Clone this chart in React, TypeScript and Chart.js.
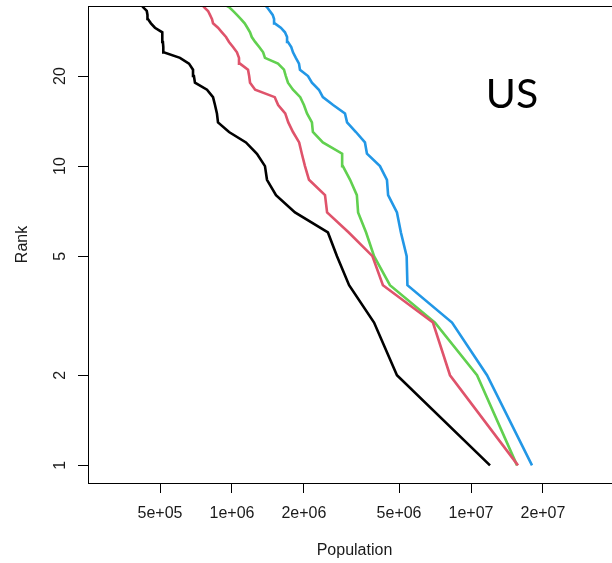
import React, { useEffect, useRef } from "react";
import { Chart, registerables } from "chart.js";

Chart.register(...registerables);

// Rank (y) of each city, 1 = largest
const ranks = [
  1, 2, 3, 4, 5, 6, 7, 8, 9, 10, 11, 12, 13, 14, 15, 16, 17, 18,
  19, 20, 21, 22, 23, 24, 25, 26, 27, 28, 29, 30, 31, 32, 33, 34, 35, 36,
];

// Population by rank, four periods (black, red, green, blue)
const popBlack = [
  12010000, 4900000, 3930000, 3090000, 2750000, 2520000, 1835000, 1528000,
  1401000, 1374000, 1272000, 1144000, 972000, 874000, 865000, 849000, 833000,
  786000, 700000, 693000, 687000, 661000, 606000, 518000, 516000, 514000,
  512000, 510000, 476000, 458000, 445000, 443000, 440000, 424000, 416000, 410000,
];
const popRed = [
  15730000, 8170000, 6930000, 4280000, 3870000, 3080000, 2500000, 2450000,
  2100000, 2020000, 1960000, 1910000, 1800000, 1720000, 1670000, 1560000,
  1510000, 1250000, 1190000, 1180000, 1167000, 1080000, 1070000, 1049000,
  1010000, 972000, 944000, 908000, 874000, 833000, 825000, 809000, 794000,
  764000, 742000, 730000,
];
const popGreen = [
  15580000, 10600000, 7070000, 4580000, 3930000, 3640000, 3370000, 3330000,
  3120000, 2910000, 2890000, 2400000, 2180000, 2160000, 2060000, 2000000,
  1930000, 1800000, 1715000, 1680000, 1650000, 1558000, 1374000, 1350000,
  1300000, 1250000, 1210000, 1190000, 1160000, 1130000, 1090000, 1049000,
  1010000, 972000, 908000, 880000,
];
const popBlue = [
  18000000, 11670000, 8330000, 5420000, 5380000, 5090000, 4900000, 4500000,
  4450000, 4160000, 3670000, 3600000, 3300000, 3030000, 2970000, 2650000,
  2400000, 2310000, 2160000, 2080000, 1925000, 1907000, 1850000, 1800000,
  1770000, 1715000, 1700000, 1666000, 1600000, 1510000, 1500000, 1480000,
  1440000, 1400000, 1340000, 1320000,
];

const seriesNames = ["Series 1", "Series 2", "Series 3", "Series 4"];
const seriesColors = ["#000000", "#DF536B", "#61D04F", "#2297E6"];

const xTickValues = [5e5, 1e6, 2e6, 5e6, 1e7, 2e7];
const xTickLabels = ["5e+05", "1e+06", "2e+06", "5e+06", "1e+07", "2e+07"];
const yTickValues = [1, 2, 5, 10, 20];
const yTickLabels = ["1", "2", "5", "10", "20"];

const xAxisTitle = "Population";
const yAxisTitle = "Rank";
const panelLabel = "US";

const xMin = 249800;
const xMax = 42420000;
const yMin = 0.873;
const yMax = 34.28;

const FONT = '"Liberation Sans", Arial, sans-serif';

const framePlugin = {
  id: "rFrame",
  afterDraw(chart: any) {
    const { ctx, chartArea: a, scales } = chart;
    ctx.save();
    ctx.strokeStyle = "#000";
    ctx.lineWidth = 1;
    ctx.strokeRect(
      Math.round(a.left) + 0.5,
      Math.round(a.top) + 0.5,
      Math.round(a.right - a.left),
      Math.round(a.bottom - a.top)
    );
    ctx.fillStyle = "#1a1a1a";
    ctx.font = "16px " + FONT;
    ctx.textAlign = "center";
    ctx.textBaseline = "middle";
    yTickValues.forEach((v, i) => {
      const y = scales.y.getPixelForValue(v);
      ctx.save();
      ctx.translate(61, y);
      ctx.rotate(-Math.PI / 2);
      ctx.fillText(yTickLabels[i], 0, 0);
      ctx.restore();
    });
    ctx.fillStyle = "#000";
    ctx.font = "41px Lato, 'Open Sans', sans-serif";
    ctx.textAlign = "center";
    ctx.textBaseline = "alphabetic";
    ctx.fillText(panelLabel, 512, 108);
    ctx.restore();
  },
};

export default function App() {
  const canvasRef = useRef<HTMLCanvasElement | null>(null);

  useEffect(() => {
    const canvas = canvasRef.current;
    if (!canvas) return;
    const allPops = [popBlack, popRed, popGreen, popBlue];
    const chart = new Chart(canvas, {
      type: "line",
      data: {
        datasets: allPops.map((pops, k) => ({
          label: seriesNames[k],
          data: ranks.map((r, i) => ({ x: pops[i], y: r })),
          borderColor: seriesColors[k],
          backgroundColor: seriesColors[k],
          borderWidth: 2.6,
          pointRadius: 0,
          tension: 0,
          fill: false,
          clip: 0,
        })),
      },
      options: {
        animation: false,
        responsive: false,
        devicePixelRatio: 1,
        layout: { padding: { left: 0, top: 6, right: 19, bottom: 0 } },
        plugins: {
          legend: { display: false },
          tooltip: { enabled: false },
        },
        scales: {
          x: {
            type: "logarithmic",
            position: "bottom",
            min: xMin,
            max: xMax,
            bounds: "data",
            afterBuildTicks: (s: any) => {
              s.ticks = xTickValues.map((v) => ({ value: v }));
            },
            afterFit: (s: any) => {
              s.height = 80;
            },
            ticks: {
              autoSkip: false,
              maxRotation: 0,
              minRotation: 0,
              padding: 11,
              color: "#1a1a1a",
              font: { family: FONT, size: 16 },
              callback: (v: any) => {
                const i = xTickValues.indexOf(Number(v));
                return i >= 0 ? xTickLabels[i] : "";
              },
            },
            grid: {
              display: true,
              drawOnChartArea: false,
              drawTicks: true,
              tickLength: 10,
              tickColor: "#000",
              tickWidth: 1,
              color: "#000",
            },
            border: { display: false },
            title: {
              display: true,
              text: xAxisTitle,
              color: "#1a1a1a",
              font: { family: FONT, size: 16 },
              padding: { top: 0, bottom: 3 },
            },
          },
          y: {
            type: "logarithmic",
            position: "left",
            min: yMin,
            max: yMax,
            bounds: "data",
            afterBuildTicks: (s: any) => {
              s.ticks = yTickValues.map((v) => ({ value: v }));
            },
            afterFit: (s: any) => {
              s.width = 88;
            },
            ticks: { display: false, autoSkip: false },
            grid: {
              display: true,
              drawOnChartArea: false,
              drawTicks: true,
              tickLength: 10,
              tickColor: "#000",
              tickWidth: 1,
              color: "#000",
            },
            border: { display: false },
            title: {
              display: true,
              text: yAxisTitle,
              color: "#1a1a1a",
              font: { family: FONT, size: 16 },
              padding: { top: 13, bottom: 0 },
            },
          },
        },
      },
      plugins: [framePlugin],
    } as any);
    return () => chart.destroy();
  }, []);

  return (
    <div
      style={{
        position: "absolute",
        left: 0,
        top: 0,
        width: 612,
        height: 563,
        overflow: "hidden",
        background: "#fff",
      }}
    >
      <canvas
        ref={canvasRef}
        width={640}
        height={563}
        style={{ display: "block", width: 640, height: 563 }}
      />
    </div>
  );
}
